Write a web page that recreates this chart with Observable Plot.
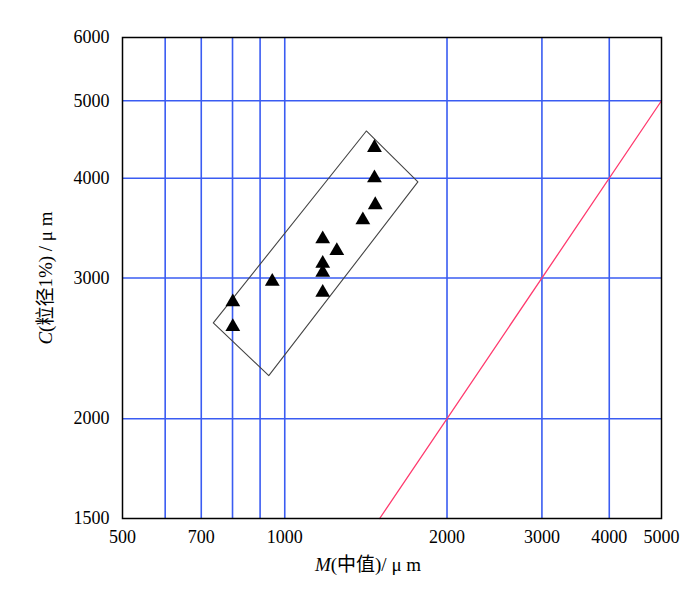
<!DOCTYPE html>
<html><head><meta charset="utf-8">
<script src="https://cdn.jsdelivr.net/npm/d3@7"></script>
<script src="https://cdn.jsdelivr.net/npm/@observablehq/plot@0.6"></script>
<style>body{margin:0;background:#fff;}</style>
</head><body><div id="chart"></div>
<script>
// Sample points: M (median, μm) and C (1% grain size, μm)
const pointM = [1467, 1467, 1472, 1396, 1176, 1249, 1176, 1176, 1176, 948, 801, 801];
const pointC = [4368, 4001, 3704, 3546, 3356, 3245, 3128, 3048, 2877, 2970, 2800, 2607];
// Enclosing rectangle (closed polygon)
const boxM = [1417, 1766, 934, 737, 1417];
const boxC = [4583, 3957, 2264, 2636, 4583];
// C = M reference line
const lineM = [1500, 5000];
const lineC = [1500, 5000];
// Ticks and grid
const xTicks = [500, 700, 1000, 2000, 3000, 4000, 5000];
const xGrid = [600, 700, 800, 900, 1000, 2000, 3000, 4000];
const yTicks = [1500, 2000, 3000, 4000, 5000, 6000];
const yGrid = [2000, 3000, 4000, 5000];
const xLabel = "M(中值)/ μ m";
const yLabel = "C(粒径1%) / μ m";

const points = pointM.map((m, i) => ({m, c: pointC[i]}));
const box = boxM.map((m, i) => ({m, c: boxC[i]}));
const diag = lineM.map((m, i) => ({m, c: lineC[i]}));

const blue = "#3a5cf2";
const ff = "'Liberation Serif','Noto Sans CJK SC',serif";
const chart = Plot.plot({
  width: 700, height: 602,
  marginLeft: 122, marginRight: 39, marginTop: 37, marginBottom: 84,
  style: {fontFamily: ff, fontSize: "18px", background: "#fff", color: "#000"},
  x: {type: "log", domain: [500, 5000]},
  y: {type: "log", domain: [1500, 6000]},
  marks: [
    Plot.ruleX(xGrid, {stroke: blue, strokeWidth: 1.6}),
    Plot.ruleY(yGrid, {stroke: blue, strokeWidth: 1.6}),
    Plot.line(diag, {x: "m", y: "c", stroke: "#ff3a6e", strokeWidth: 1.3}),
    Plot.line(box, {x: "m", y: "c", stroke: "#444", strokeWidth: 1.1}),
    Plot.dot(points, {x: "m", y: "c", symbol: "triangle", fill: "#000", stroke: "none", r: 5.5}),
    Plot.frame({stroke: "#000", strokeWidth: 1.5}),
    Plot.axisX({ticks: xTicks, tickSize: 0, tickPadding: 12, tickFormat: d => String(d), label: null, fontSize: 18, fontFamily: ff}),
    Plot.axisY({ticks: yTicks, tickSize: 0, tickPadding: 13, tickFormat: d => String(d), label: null, fontSize: 18, fontFamily: ff}),
    Plot.text([xLabel], {frameAnchor: "bottom", lineAnchor: "middle", textAnchor: "middle", dy: 46, dx: -24, text: d => d, fontSize: 19, fontFamily: ff, className: "xlab"}),
    Plot.text([yLabel], {frameAnchor: "left", lineAnchor: "middle", textAnchor: "middle", dx: -77, rotate: -90, text: d => d, fontSize: 19, fontFamily: ff, className: "ylab"})
  ]
});
document.getElementById("chart").appendChild(chart);

// italicize the leading variable letter in axis labels
for (const cls of ["xlab", "ylab"]) {
  d3.select(chart).selectAll(`g.${cls} text`).each(function() {
    const t = d3.select(this);
    const s = t.text();
    t.text(null);
    t.append("tspan").attr("font-style", "italic").text(s[0]);
    t.append("tspan").text(s.slice(1));
  });
}
</script>
</body></html>
